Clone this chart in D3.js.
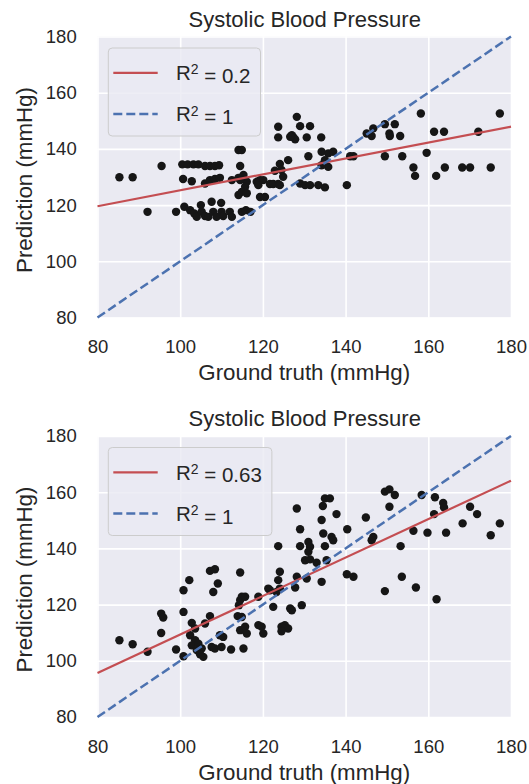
<!DOCTYPE html>
<html>
<head>
<meta charset="utf-8">
<script src="https://cdn.jsdelivr.net/npm/d3@7"></script>
<style>
body { margin: 0; background: #fff; }
text { font-family: "Liberation Sans", Arial, sans-serif; fill: #262626; }
.axis text { font-size: 18.5px; }
.label { font-size: 22.3px; }
.title { font-size: 22px; }
.legend text { font-size: 20.5px; }
</style>
</head>
<body>
<div id="chart"></div>
<script>
// DATA ------------------------------
const chartTitle = "Systolic Blood Pressure";
const xLabel = "Ground truth (mmHg)";
const yLabel = "Prediction (mmHg)";
const ticks = [80, 100, 120, 140, 160, 180];

// [ground truth, prediction]
const pointsTop = [
  [85.3,129.9],[88.5,129.9],[95.5,133.9],[92.1,117.6],[99.0,117.6],
  [100.5,134.5],[101.8,134.5],[103.2,134.5],[104.4,134.5],[106.0,133.9],[107.2,133.9],[108.4,133.9],[109.4,134.2],
  [100.7,129.3],[102.8,128.5],[106.0,127.7],[107.2,128.9],[108.4,129.3],[109.6,129.7],[112.5,128.9],[114.1,129.7],
  [114.1,139.6],[114.9,139.6],[114.5,133.9],[114.1,123.6],
  [101.0,119.4],[102.4,118.2],[103.4,117.0],[104.0,115.8],[105.0,120.0],[105.2,117.6],[106.0,116.1],[106.8,115.8],
  [107.6,121.2],[108.0,117.6],[108.8,115.8],[109.9,120.8],[110.0,117.6],[110.4,116.1],[112.0,117.6],[112.5,115.8],[114.9,117.6],
  [115.3,130.7],[114.5,128.9],[116.1,128.3],[115.7,126.5],[114.9,124.7],[116.1,124.2],
  [118.5,128.3],[119.3,128.9],[120.1,128.9],[118.9,127.1],[121.7,127.5],[122.5,127.5],[123.7,127.5],[124.1,127.1],
  [119.3,122.9],[120.5,122.9],[115.9,118.2],[117.0,117.6],
  [126.1,136.0],[124.9,130.1],[124.1,134.6],[122.9,132.2],[124.5,132.5],
  [123.7,147.9],[129.0,148.1],[131.4,148.1],[123.7,144.1],[127.0,144.9],[127.4,144.1],[127.8,143.4],[130.6,144.1],
  [134.1,144.1],[126.6,144.3],[128.2,151.4],
  [131.0,137.4],[134.2,139.0],[135.8,138.4],[137.0,139.0],[135.0,136.0],[135.8,133.6],[134.2,134.2],
  [141.1,137.4],[141.9,137.4],
  [129.0,127.7],[130.2,127.1],[131.4,127.1],[133.4,127.1],[135.0,126.3],[140.3,127.1],
  [145.1,145.5],[146.3,144.6],[146.7,147.3],[149.5,148.8],[151.9,148.8],[150.6,145.5],[150.7,144.6],[153.2,144.6],
  [149.5,137.4],[153.7,137.4],[158.2,152.6],[159.6,138.6],[156.4,133.4],[156.8,130.4],[161.4,146.1],[163.8,146.1],
  [161.9,130.4],[164.0,133.4],[168.2,133.4],[170.1,133.4],[172.1,146.1],[175.1,133.4],[177.3,152.6]
];

const pointsBottom = [
  [85.3,107.3],[88.5,105.9],[92.1,103.2],[95.4,116.8],[95.9,115.4],[95.4,109.9],[99.0,104.0],[100.8,101.6],
  [100.8,117.4],[100.8,125.1],[102.2,128.7],[107.2,132.0],[108.4,132.6],[109.1,127.5],[108.0,124.5],[114.5,131.4],[102.8,113.5],
  [103.6,111.5],[102.4,109.1],[103.6,107.3],[102.8,105.5],[104.4,106.1],[104.0,103.8],[105.2,104.4],[104.8,102.3],
  [105.6,101.4],[106.0,113.3],[107.2,115.9],[107.6,104.9],[108.4,104.4],[109.6,109.1],[110.4,108.5],[110.0,104.9],
  [112.3,104.0],[114.5,121.6],[114.9,122.8],[114.2,119.8],[114.5,110.9],[113.9,115.9],[115.3,104.4],
  [123.7,140.8],[128.2,154.2],[129.0,146.8],[129.0,140.8],[131.0,142.3],[131.4,140.6],[131.0,138.8],[130.2,135.8],
  [131.4,136.1],[134.2,150.1],[134.5,155.1],[135.0,157.8],[136.2,157.8],[137.8,152.2],[134.6,145.3],[136.6,144.1],
  [137.0,142.9],[135.0,140.8],[133.0,134.9],[135.4,135.8],[124.1,131.7],[123.7,128.7],[128.2,129.9],[130.6,129.3],
  [134.2,128.1],[121.3,125.7],[121.7,125.1],[123.3,124.5],[124.1,125.7],[127.8,126.1],[122.5,119.2],[126.6,118.6],
  [127.0,118.0],[129.4,119.8],[140.3,130.8],[141.9,129.9],[140.4,146.8],[144.9,151.0],[146.3,142.9],[146.7,144.1],
  [115.7,122.8],[118.9,122.8],[114.9,115.6],[115.7,112.1],[116.1,109.7],[118.9,112.7],[119.7,112.1],[120.1,109.7],
  [124.5,112.1],[125.3,112.7],[126.1,111.5],[124.5,110.5],
  [149.5,160.2],[150.6,161.0],[151.9,159.0],[150.6,154.8],[158.4,159.0],[161.6,158.2],[163.6,156.2],[163.8,154.6],
  [161.4,152.2],[170.1,154.8],[171.8,152.2],[168.3,148.9],[177.3,148.9],[175.1,144.7],[164.3,145.6],[159.8,145.6],
  [156.4,146.3],[153.3,140.8],[153.6,129.9],[149.5,124.8],[157.0,126.1],[162.0,121.9]
];

// regression lines (end points) and the R^2 = 1 line
const fitTop = [[80, 119.6], [180, 147.9]];
const fitBottom = [[80, 95.7], [180, 164.1]];
const identity = [[80, 80], [180, 180]];
const r2Top = "0.2";
const r2Bottom = "0.63";

// CHART INIT ------------------------------
const margin = ({top: 36.5, left: 97.5});
const width = 413.5;
const height = 281;
const panelGap = 399.5;

let svg = d3.select('#chart').append('svg')
  .attr('width', 529)
  .attr('height', 784);

function drawPanel(offsetY, points, fit, r2) {
  let g = svg.append('g')
    .attr('transform', "translate(" + margin.left + "," + offsetY + ")");

  let xScale = d3.scaleLinear().domain([80, 180]).range([0, width]);
  let yScale = d3.scaleLinear().domain([80, 180]).range([height, 0]);

  g.append('rect')
    .attr('width', width)
    .attr('height', height)
    .attr('fill', '#eaeaf2');

  let xAxis = d3.axisBottom(xScale).tickValues(ticks).tickSize(-height).tickPadding(22.5);
  let yAxis = d3.axisLeft(yScale).tickValues(ticks).tickSize(-width).tickPadding(20.8);

  let xAxisGroup = g.append('g').attr('class', 'axis')
    .attr('transform', "translate(0," + height + ")")
    .call(xAxis);
  let yAxisGroup = g.append('g').attr('class', 'axis').call(yAxis);

  [xAxisGroup, yAxisGroup].forEach(ax => {
    ax.select('.domain').remove();
    ax.selectAll('line').attr('stroke', '#fff').attr('stroke-width', 1.6);
  });

  g.selectAll('.dot')
    .data(points)
    .enter()
    .append('circle')
    .attr('class', 'dot')
    .attr('cx', d => xScale(d[0]))
    .attr('cy', d => yScale(d[1]))
    .attr('r', 4.2)
    .attr('fill', '#161616');

  let line = d3.line().x(d => xScale(d[0])).y(d => yScale(d[1]));

  g.append('path')
    .attr('d', line(fit))
    .attr('fill', 'none')
    .attr('stroke', '#c44e52')
    .attr('stroke-width', 2.2);

  g.append('path')
    .attr('d', line(identity))
    .attr('fill', 'none')
    .attr('stroke', '#4c72b0')
    .attr('stroke-width', 2.5)
    .attr('stroke-dasharray', '9,4');

  // legend
  let legend = g.append('g').attr('class', 'legend').attr('transform', "translate(10.8,11.5)");
  let box = legend.append('rect')
    .attr('height', 88)
    .attr('rx', 4)
    .attr('fill', '#eaeaf2')
    .attr('fill-opacity', 0.8)
    .attr('stroke', '#cccccc')
    .attr('stroke-width', 1);

  let items = [
    {label: r2, color: '#c44e52', dash: null, y: 24.8, w: 2.2},
    {label: "1", color: '#4c72b0', dash: '9,4', y: 66, w: 2.5}
  ];
  let maxLen = 0;
  items.forEach(it => {
    legend.append('line')
      .attr('x1', 5).attr('x2', 49.4)
      .attr('y1', it.y).attr('y2', it.y)
      .attr('stroke', it.color)
      .attr('stroke-width', it.w)
      .attr('stroke-dasharray', it.dash);
    let t = legend.append('text')
      .attr('x', 67.7)
      .attr('y', it.y)
      .attr('dy', '0.36em');
    t.append('tspan').text('R');
    t.append('tspan').attr('dy', '-0.42em').style('font-size', '14px').text('2');
    t.append('tspan').attr('dy', '0.42em').text(' = ' + it.label);
    maxLen = Math.max(maxLen, t.node().getComputedTextLength());
  });
  box.attr('width', 67.7 + maxLen + 10);

  // titles
  g.append('text')
    .attr('class', 'title')
    .attr('x', width / 2 + 0.5)
    .attr('y', -10)
    .attr('text-anchor', 'middle')
    .text(chartTitle);

  g.append('text')
    .attr('class', 'label')
    .attr('x', width / 2)
    .attr('y', height + 62.5)
    .attr('text-anchor', 'middle')
    .text(xLabel);

  g.append('text')
    .attr('class', 'label')
    .attr('transform', "translate(-65.8," + (height / 2 + 3) + ") rotate(-90)")
    .attr('text-anchor', 'middle')
    .text(yLabel);
}

drawPanel(margin.top, pointsTop, fitTop, r2Top);
drawPanel(margin.top + panelGap, pointsBottom, fitBottom, r2Bottom);
</script>
</body>
</html>
